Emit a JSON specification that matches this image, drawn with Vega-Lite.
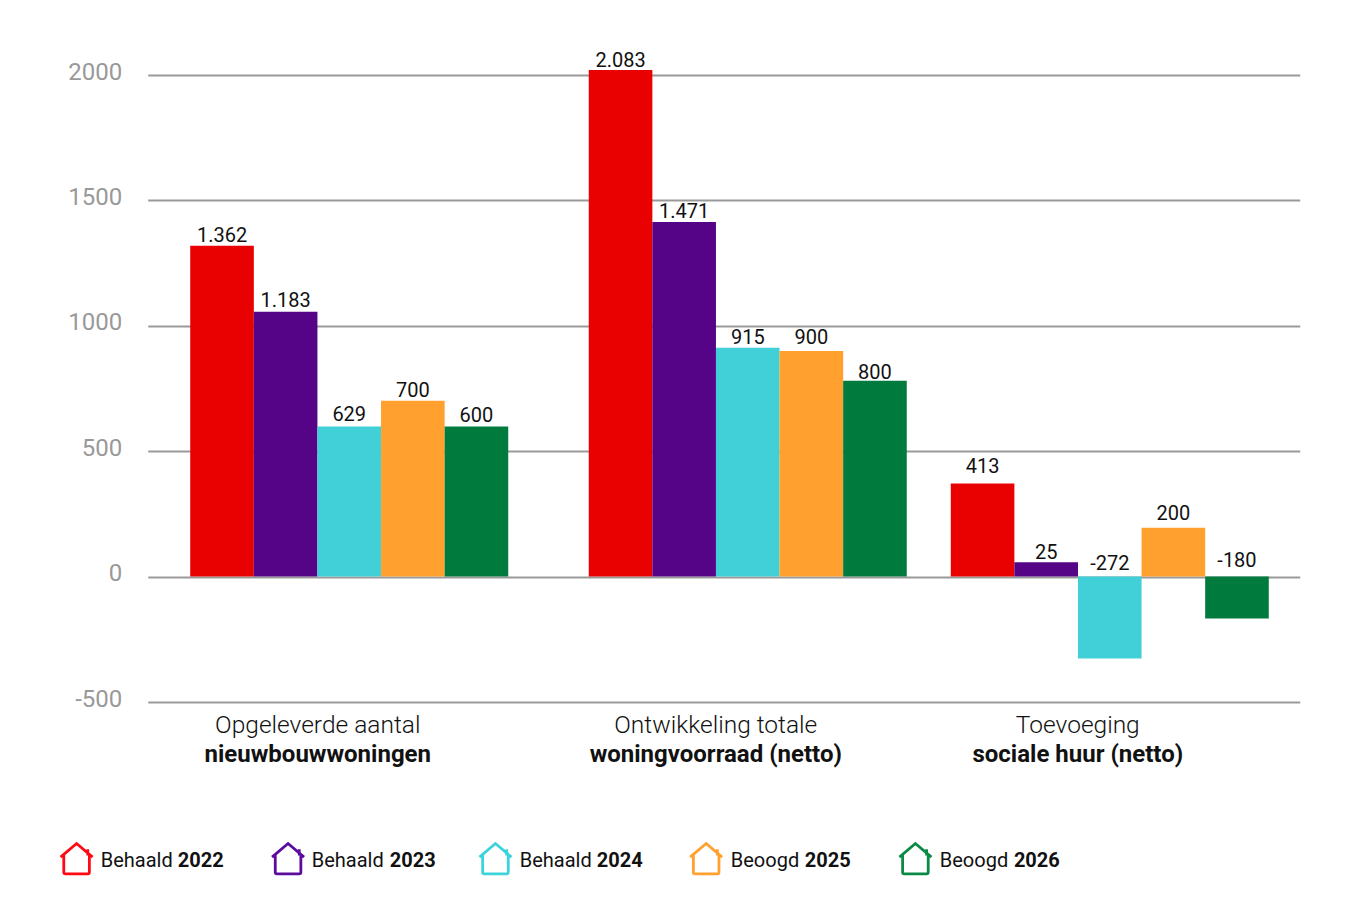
{
"$schema":"https://vega.github.io/schema/vega-lite/v6.json",
"width":1152,"height":627,"autosize":{"type":"none"},
"padding":{"left":147.75,"top":75,"right":72.25,"bottom":198},
"background":"white",
"config":{"view":{"stroke":null},"font":"Roboto"},
"datasets":{
"bars":[
{"group":"Opgeleverde","series":"Behaald 2022","value":1319,"label":"1.362","labelAt":1339,"start":0.668,"end":1.668,"mid":1.168},
{"group":"Opgeleverde","series":"Behaald 2023","value":1056,"label":"1.183","labelAt":1080,"start":1.668,"end":2.668,"mid":2.168},
{"group":"Opgeleverde","series":"Behaald 2024","value":598,"label":"629","labelAt":625,"start":2.668,"end":3.668,"mid":3.168},
{"group":"Opgeleverde","series":"Beoogd 2025","value":701,"label":"700","labelAt":721,"start":3.668,"end":4.668,"mid":4.168},
{"group":"Opgeleverde","series":"Beoogd 2026","value":598,"label":"600","labelAt":622,"start":4.668,"end":5.668,"mid":5.168},
{"group":"Ontwikkeling","series":"Behaald 2022","value":2020,"label":"2.083","labelAt":2036,"start":6.934,"end":7.934,"mid":7.434},
{"group":"Ontwikkeling","series":"Behaald 2023","value":1414,"label":"1.471","labelAt":1434,"start":7.934,"end":8.934,"mid":8.434},
{"group":"Ontwikkeling","series":"Behaald 2024","value":912,"label":"915","labelAt":932,"start":8.934,"end":9.934,"mid":9.434},
{"group":"Ontwikkeling","series":"Beoogd 2025","value":900,"label":"900","labelAt":932,"start":9.934,"end":10.934,"mid":10.434},
{"group":"Ontwikkeling","series":"Beoogd 2026","value":781,"label":"800","labelAt":793,"start":10.934,"end":11.934,"mid":11.434},
{"group":"Toevoeging","series":"Behaald 2022","value":371,"label":"413","labelAt":418,"start":12.626,"end":13.626,"mid":13.126},
{"group":"Toevoeging","series":"Behaald 2023","value":57,"label":"25","labelAt":76,"start":13.626,"end":14.626,"mid":14.126},
{"group":"Toevoeging","series":"Behaald 2024","value":-327,"label":"-272","labelAt":32,"start":14.626,"end":15.626,"mid":15.126},
{"group":"Toevoeging","series":"Beoogd 2025","value":195,"label":"200","labelAt":231,"start":15.626,"end":16.626,"mid":16.126},
{"group":"Toevoeging","series":"Beoogd 2026","value":-167,"label":"-180","labelAt":44,"start":16.626,"end":17.626,"mid":17.126}
],
"cats":[
{"line1":"Opgeleverde aantal","line2":"nieuwbouwwoningen","center":2.673},
{"line1":"Ontwikkeling totale","line2":"woningvoorraad (netto)","center":8.931},
{"line1":"Toevoeging","line2":"sociale huur (netto)","center":14.623}
],
"legend":[
{"series":"Behaald 2022","word":"Behaald","year":"2022","house":-1.119,"wordStart":-0.739,"yearEnd":1.195},
{"series":"Behaald 2023","word":"Behaald","year":"2023","house":2.206,"wordStart":2.579,"yearEnd":4.528},
{"series":"Behaald 2024","word":"Behaald","year":"2024","house":5.467,"wordStart":5.849,"yearEnd":7.783},
{"series":"Beoogd 2025","word":"Beoogd","year":"2025","house":8.78,"wordStart":9.167,"yearEnd":11.053},
{"series":"Beoogd 2026","word":"Beoogd","year":"2026","house":12.07,"wordStart":12.453,"yearEnd":14.34}
]
},
"layer":[
{"data":{"name":"bars"},
"mark":{"type":"bar"},
"encoding":{
"x":{"field":"start","type":"quantitative","scale":{"domain":[0,18.113],"nice":false,"zero":false},"axis":null},
"x2":{"field":"end"},
"y":{"field":"value","type":"quantitative","scale":{"domain":[-500,2000],"nice":false},
"axis":{"title":null,"values":[-500,0,500,1000,1500,2000],"labelExpr":"'' + datum.value","domain":false,"ticks":false,"labelPadding":26,"labelOffset":-3,"labelFontSize":24,"labelColor":"#999999","labelFont":"Roboto","grid":true,"gridColor":"#999999","gridWidth":2}},
"y2":{"datum":0},
"color":{"field":"series","type":"nominal","legend":null,"scale":{"domain":["Behaald 2022","Behaald 2023","Behaald 2024","Beoogd 2025","Beoogd 2026"],"range":["#E90000","#550487","#41D0D8","#FFA02F","#007A3D"]}}
}},
{"data":{"name":"bars"},
"mark":{"type":"text","font":"Roboto","fontSize":20,"color":"#111111","baseline":"alphabetic","align":"center","dy":1},
"encoding":{
"x":{"field":"mid","type":"quantitative"},
"y":{"field":"labelAt","type":"quantitative"},
"text":{"field":"label"}
}},
{"data":{"name":"cats"},
"mark":{"type":"text","font":"Roboto","fontSize":24.5,"fontWeight":300,"color":"#111111","baseline":"alphabetic","align":"center","dy":31},
"encoding":{"x":{"field":"center","type":"quantitative"},"y":{"datum":-500},"text":{"field":"line1"}}},
{"data":{"name":"cats"},
"mark":{"type":"text","font":"Roboto","fontSize":24,"fontWeight":"bold","color":"#111111","baseline":"alphabetic","align":"center","dy":60},
"encoding":{"x":{"field":"center","type":"quantitative"},"y":{"datum":-500},"text":{"field":"line2"}}},
{"data":{"name":"legend"},
"mark":{"type":"point","filled":false,"size":1024,"strokeWidth":2.8,"opacity":1,"shape":"M-1 -0.1 L0 -0.95 L1 -0.1 M-0.8 -0.25 L-0.8 0.85 Q-0.8 0.95 -0.7 0.95 L0.7 0.95 Q0.8 0.95 0.8 0.85 L0.8 -0.25 M0.7 -0.6 L0.7 -0.2"},
"encoding":{"x":{"field":"house","type":"quantitative"},"y":{"datum":-1125},"stroke":{"field":"series","type":"nominal","legend":null,"scale":{"domain":["Behaald 2022","Behaald 2023","Behaald 2024","Beoogd 2025","Beoogd 2026"],"range":["#FF0A14","#5B0C9E","#3CD3DA","#FFA02F","#0B8A46"]}}}},
{"data":{"name":"legend"},
"mark":{"type":"text","font":"Roboto","fontSize":20,"color":"#111111","baseline":"middle","align":"left","dy":2},
"encoding":{"x":{"field":"wordStart","type":"quantitative"},"y":{"datum":-1125},"text":{"field":"word"}}},
{"data":{"name":"legend"},
"mark":{"type":"text","font":"Roboto","fontSize":20,"fontWeight":"bold","color":"#111111","baseline":"middle","align":"right","dy":2},
"encoding":{"x":{"field":"yearEnd","type":"quantitative"},"y":{"datum":-1125},"text":{"field":"year"}}}
],
"resolve":{"scale":{"color":"independent"}}
}
